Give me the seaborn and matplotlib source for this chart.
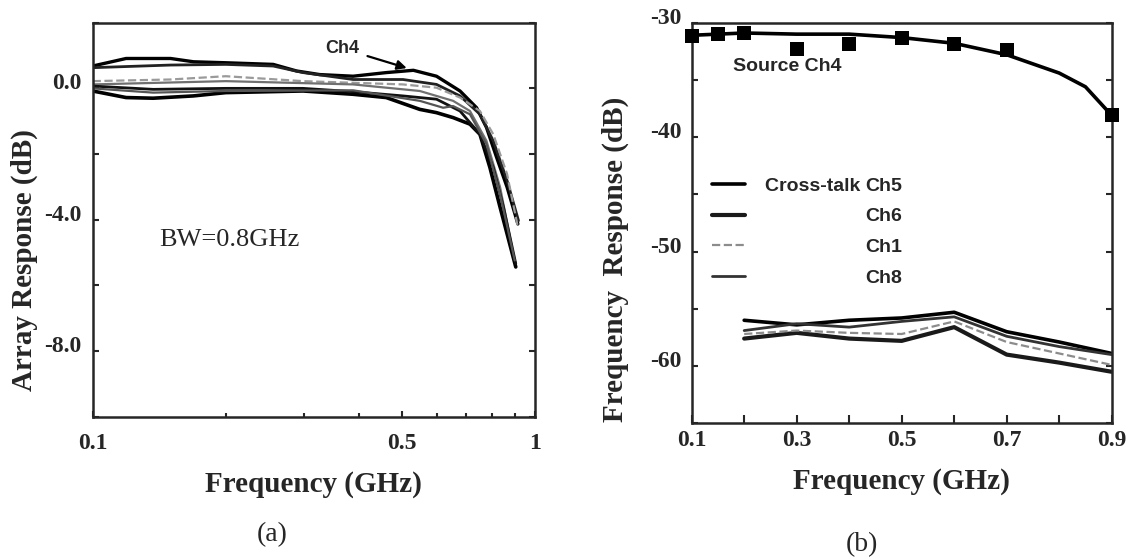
import numpy as np
import pandas as pd
import matplotlib
matplotlib.use("Agg")
import matplotlib.pyplot as plt
import seaborn as sns
from matplotlib.ticker import FixedLocator, FormatStrFormatter, NullFormatter
from matplotlib.transforms import ScaledTranslation
from matplotlib.lines import Line2D

# ---------------- data: panel (a) array response ----------------
a_x = [0.1, 0.119, 0.15, 0.169, 0.2, 0.256, 0.289, 0.326, 0.388, 0.461, 0.531, 0.599, 0.677, 0.738, 0.777, 0.819, 0.865, 0.915]
a_y = [0.68, 0.91, 0.91, 0.81, 0.78, 0.73, 0.53, 0.42, 0.37, 0.48, 0.55, 0.37, -0.08, -0.59, -1.19, -2.10, -3.01, -4.13]
b_x = [0.1, 0.15, 0.2, 0.256, 0.299, 0.388, 0.503, 0.599, 0.677, 0.751, 0.805, 0.865, 0.918]
b_y = [0.63, 0.71, 0.73, 0.68, 0.48, 0.27, 0.27, 0.12, -0.23, -0.79, -1.60, -2.81, -4.03]
c_x = [0.1, 0.15, 0.2, 0.299, 0.388, 0.503, 0.599, 0.677, 0.751, 0.805, 0.865, 0.915]
c_y = [0.22, 0.27, 0.37, 0.22, 0.17, 0.12, 0.02, -0.28, -0.69, -1.40, -2.61, -4.23]
d_x = [0.1, 0.2, 0.388, 0.549, 0.653, 0.713, 0.777, 0.834, 0.893]
d_y = [0.12, 0.22, 0.12, -0.08, -0.38, -0.69, -1.60, -3.01, -5.04]
e_x = [0.1, 0.119, 0.137, 0.169, 0.2, 0.299, 0.388, 0.461, 0.549, 0.599, 0.653, 0.713, 0.751, 0.791, 0.834, 0.905]
e_y = [-0.08, -0.28, -0.30, -0.23, -0.13, -0.08, -0.18, -0.28, -0.64, -0.74, -0.89, -1.09, -1.40, -2.41, -3.62, -5.44]
f_x = [0.1, 0.137, 0.2, 0.299, 0.388, 0.503, 0.599, 0.677, 0.751, 0.805, 0.849, 0.905]
f_y = [0.07, -0.03, 0.00, 0.00, -0.10, -0.23, -0.33, -0.69, -1.40, -2.41, -3.62, -5.34]
g_x = [0.1, 0.137, 0.2, 0.388, 0.549, 0.62, 0.653, 0.713, 0.777, 0.834, 0.900]
g_y = [0.00, -0.13, -0.08, -0.06, -0.38, -0.59, -0.54, -0.79, -1.70, -3.22, -5.24]

left_xticks = [0.1, 0.5, 1.0]
left_xticklabels = ["0.1", "0.5", "1"]
left_yticks = [-8.0, -4.0, 0.0]

# ---------------- data: panel (b) frequency response ----------------
src_x = [0.1, 0.15, 0.2, 0.3, 0.4, 0.5, 0.6, 0.7, 0.9]
src_y = [-31.2, -31.0, -30.9, -32.3, -31.9, -31.3, -31.9, -32.4, -38.1]
fit_x = [0.1, 0.2, 0.3, 0.4, 0.5, 0.6, 0.7, 0.8, 0.85, 0.9]
fit_y = [-31.1, -30.9, -31.0, -31.0, -31.3, -31.8, -32.8, -34.4, -35.6, -38.1]

xt_x = [0.2, 0.3, 0.4, 0.5, 0.6, 0.7, 0.8, 0.9]
ch5 = [-56.0, -56.4, -56.0, -55.8, -55.3, -57.0, -57.9, -58.9]
ch6 = [-57.6, -57.1, -57.6, -57.8, -56.6, -59.0, -59.7, -60.5]
ch1 = [-57.2, -56.9, -57.1, -57.2, -56.1, -57.9, -58.9, -59.9]
ch8 = [-56.9, -56.3, -56.6, -56.1, -55.7, -57.4, -58.3, -59.0]
xt_labels = ["Ch5", "Ch6", "Ch1", "Ch8"]

right_xticks = [0.1, 0.3, 0.5, 0.7, 0.9]
right_yticks = [-60, -50, -40, -30]

# ---------------- style ----------------
sns.set_style("ticks")
plt.rcParams['font.family'] = ['Liberation Serif', 'DejaVu Serif']
plt.rcParams['axes.unicode_minus'] = False
plt.rcParams['axes.linewidth'] = 1.8
plt.rcParams['xtick.direction'] = 'in'
plt.rcParams['ytick.direction'] = 'in'

SANS = ['Liberation Sans', 'DejaVu Sans']

fig = plt.figure(figsize=(11.3, 5.59), dpi=100)
axL = fig.add_axes([0.082, 0.2546, 0.3914, 0.7048])
axR = fig.add_axes([0.6121, 0.2428, 0.3717, 0.7166])

# ---------------- panel (a) ----------------
left_curves = [
    (a_x, a_y, 'black', 2.4, '-'),
    (b_x, b_y, '#222222', 2.0, '-'),
    (c_x, c_y, '#9a9a9a', 1.6, '--'),
    (d_x, d_y, '#707070', 1.6, '-'),
    (e_x, e_y, 'black', 2.6, '-'),
    (f_x, f_y, '#111111', 2.0, '-'),
    (g_x, g_y, '#555555', 1.6, '-'),
]
for xs, ys, col, lw, ls in left_curves:
    sns.lineplot(x=xs, y=ys, ax=axL, color=col, lw=lw, linestyle=ls,
                 estimator=None, sort=False, legend=False)

axL.set_xscale('log')
axL.set_xlim(0.1, 1.0)
axL.set_ylim(-10, 2)
axL.xaxis.set_major_locator(FixedLocator(left_xticks))
axL.set_xticklabels(left_xticklabels)
axL.xaxis.set_minor_locator(FixedLocator([0.2, 0.3, 0.4, 0.6, 0.7, 0.8, 0.9]))
axL.xaxis.set_minor_formatter(NullFormatter())
axL.yaxis.set_major_locator(FixedLocator(left_yticks))
axL.yaxis.set_major_formatter(FormatStrFormatter('%.1f'))
axL.yaxis.set_minor_locator(FixedLocator([-10, -6, -2, 2]))
axL.tick_params(axis='both', which='both', right=True, top=False)
axL.tick_params(axis='x', which='major', labelsize=17, pad=12, length=4, width=1.5)
axL.tick_params(axis='x', which='minor', length=3, width=1.5)
axL.tick_params(axis='y', which='major', labelsize=17, pad=8, length=4, width=1.5)
axL.tick_params(axis='y', which='minor', length=4, width=1.5)
for lab in axL.get_xticklabels() + axL.get_yticklabels():
    lab.set_fontweight('bold')
for lab in axL.get_yticklabels():
    lab.set_transform(lab.get_transform() + ScaledTranslation(0, 0.07, fig.dpi_scale_trans))

axL.set_xlabel("Frequency (GHz)", fontsize=21, fontweight='bold', labelpad=12)
axL.set_ylabel("Array Response (dB)", fontsize=21, fontweight='bold')
axL.yaxis.set_label_coords(-0.124, 0.398)

axL.annotate("Ch4", xy=(0.513, 0.62), xytext=(0.366, 1.22), textcoords='data',
             ha='center', va='center', family=SANS, fontweight='bold', fontsize=13,
             arrowprops=dict(arrowstyle='-|>', color='black', lw=1.6,
                             mutation_scale=14, shrinkA=4, shrinkB=0))
axL.text(0.2036, -4.63, "BW=0.8GHz", fontsize=19, ha='center', va='center')

# ---------------- panel (b) ----------------
sns.lineplot(x=fit_x, y=fit_y, ax=axR, color='black', lw=2.6,
             estimator=None, sort=False, legend=False)
sns.scatterplot(x=src_x, y=src_y, ax=axR, marker='s', s=90, color='black',
                edgecolor='black', linewidth=0, legend=False, zorder=5, clip_on=False)

xt_series = [ch5, ch6, ch1, ch8]
xt_styles = [('black', 2.6, '-'), ('#1a1a1a', 3.0, '-'), ('#8c8c8c', 1.6, '--'), ('#333333', 2.0, '-')]
handles = []
for ys, (col, lw, ls) in zip(xt_series, xt_styles):
    sns.lineplot(x=xt_x, y=ys, ax=axR, color=col, lw=lw, linestyle=ls,
                 estimator=None, sort=False, legend=False)
    handles.append(Line2D([], [], color=col, lw=lw, linestyle=ls))

leg = axR.legend(handles, xt_labels, loc='upper left', bbox_to_anchor=(0.048, 0.615),
                 frameon=False, handlelength=1.7, handletextpad=6.2, labelspacing=0.68,
                 borderpad=0, borderaxespad=0,
                 prop=dict(family=SANS, weight='bold', size=14))

axR.text(0.1787, -33.84, "Source Ch4", family=SANS, fontweight='bold', fontsize=14,
         ha='left', va='center')

axR.set_xlim(0.1, 0.9)
axR.set_ylim(-65, -30)
axR.xaxis.set_major_locator(FixedLocator(right_xticks))
axR.xaxis.set_major_formatter(FormatStrFormatter('%.1f'))
axR.xaxis.set_minor_locator(FixedLocator([0.2, 0.4, 0.6, 0.8]))
axR.yaxis.set_major_locator(FixedLocator(right_yticks))
axR.yaxis.set_major_formatter(FormatStrFormatter('%d'))
axR.yaxis.set_minor_locator(FixedLocator([-65, -55, -45, -35]))
axR.tick_params(axis='both', which='both', right=True, top=False)
axR.tick_params(axis='x', which='both', labelsize=17, pad=5, length=6, width=1.5)
axR.tick_params(axis='y', which='both', labelsize=17, pad=7, length=4, width=1.5)
for lab in axR.get_xticklabels() + axR.get_yticklabels():
    lab.set_fontweight('bold')
for lab in axR.get_yticklabels():
    lab.set_transform(lab.get_transform() + ScaledTranslation(0, 0.07, fig.dpi_scale_trans))

axR.set_xlabel("Frequency (GHz)", fontsize=21, fontweight='bold', labelpad=12)
axR.set_ylabel("Frequency  Response (dB)", fontsize=21, fontweight='bold')
axR.yaxis.set_label_coords(-0.149, 0.408)

fig.text(272 / 1130, 1 - 535 / 559, "(a)", fontsize=20, ha='center', va='center')
fig.text(862 / 1130, 1 - 545 / 559, "(b)", fontsize=20, ha='center', va='center')

# "Cross-talk" prefix placed just left of the first legend label
fig.canvas.draw()
bb = leg.get_texts()[0].get_window_extent()
x0, y0 = fig.transFigure.inverted().transform((bb.x0, bb.y0))
fig.text(x0, y0, "Cross-talk ", family=SANS, fontweight='bold', fontsize=14,
         ha='right', va='bottom')

fig.savefig("out.png", dpi=100, facecolor='white')
